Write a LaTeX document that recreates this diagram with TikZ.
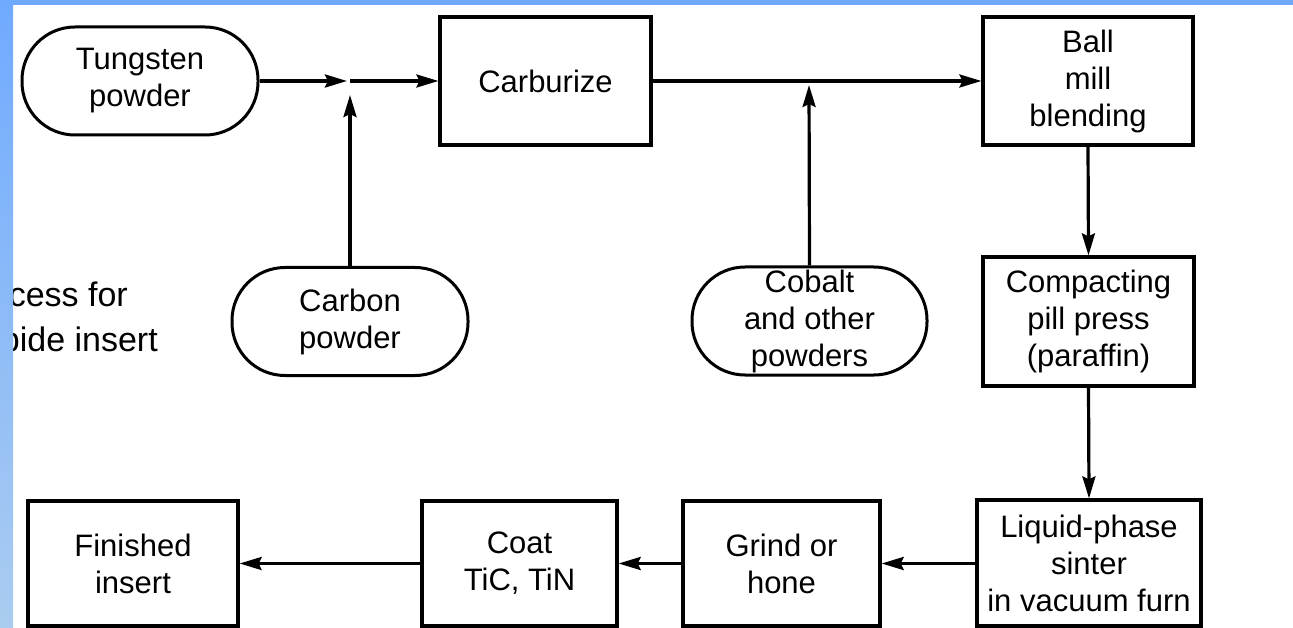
\documentclass[tikz,border=0pt]{standalone}
\usepackage{fontspec}
\setmainfont{Liberation Sans}
\usetikzlibrary{arrows.meta}
\definecolor{bandtop}{HTML}{70AAFF}
\definecolor{bandbot}{HTML}{AACCF0}
\begin{document}
\begin{tikzpicture}[x=1pt,y=-1pt,
  boxstyle/.style={draw, line width=3.2pt, inner sep=2pt, align=center,
    font=\fontsize{31}{37}\selectfont},
  procbox/.style={boxstyle, rectangle},
  stadium/.style={boxstyle, line width=3pt, rectangle, rounded corners=53pt, minimum width=236pt, minimum height=108pt},
  arr/.style={line width=3.2pt, -{Stealth[length=22pt,width=13pt,inset=3pt]}},
  sidetext/.style={font=\fontsize{34}{40}\selectfont, inner sep=0pt}
]
\useasboundingbox (0,0) rectangle (1293,628);
\fill[white] (0,0) rectangle (1293,628);

% side text (partly hidden)
\node[sidetext, anchor=base east] (st1) at (128,307) {cess for};
\node[sidetext, anchor=base east] (st2) at (158,352) {bide insert};

% nodes
\node[stadium] (tung) at (140,81) {Tungsten\\powder};
\node[procbox, minimum width=211pt, minimum height=128pt] (carb) at (545.5,81) {Carburize};
\node[procbox, minimum width=210pt, minimum height=128pt] (ball) at (1088,81) {Ball\\mill\\blending};
\node[stadium] (carbon) at (350,321.5) {Carbon\\powder};
\node[stadium, minimum width=235pt] (cobalt) at (809.5,321) {Cobalt\\and other\\powders};
\node[procbox, minimum width=211pt, minimum height=129pt] (comp) at (1088.5,321.5) {Compacting\\pill press\\(paraffin)};
\node[procbox, minimum width=224pt, minimum height=126pt] (liq) at (1089,563) {Liquid-phase\\sinter\\in vacuum furn};
\node[procbox, minimum width=197pt, minimum height=125pt] (grind) at (781.5,563.5) {Grind or\\hone};
\node[procbox, minimum width=195pt, minimum height=125pt] (coat) at (519.5,563.5) {Coat\\TiC, TiN};
\node[procbox, minimum width=210pt, minimum height=125pt] (fin) at (133,563.5) {Finished\\insert};

\coordinate (j1) at (350,81);
\coordinate (j2) at (809,81);

% connectors
\draw[arr, shorten >=3pt] (tung.east) -- (j1);
\draw[arr] (j1) -- (carb.west);
\draw[arr, shorten >=14pt] (carbon.north) -- (j1);
\draw[arr] (carb.east) -- (ball.west);
\draw[arr, shorten >=4pt] (cobalt.north) -- (j2);
\draw[arr] (ball.south) -- (comp.north);
\draw[arr] (comp.south) -- (liq.north);
\draw[arr] (liq.west |- grind.east) -- (grind.east);
\draw[arr] (grind.west) -- (coat.east);
\draw[arr] (coat.west) -- (fin.east);

% blue frame bands
\shade[top color=bandtop, bottom color=bandbot] (0,0) rectangle (13,628);
\fill[bandtop] (0,0) rectangle (1293,5);
\end{tikzpicture}
\end{document}
